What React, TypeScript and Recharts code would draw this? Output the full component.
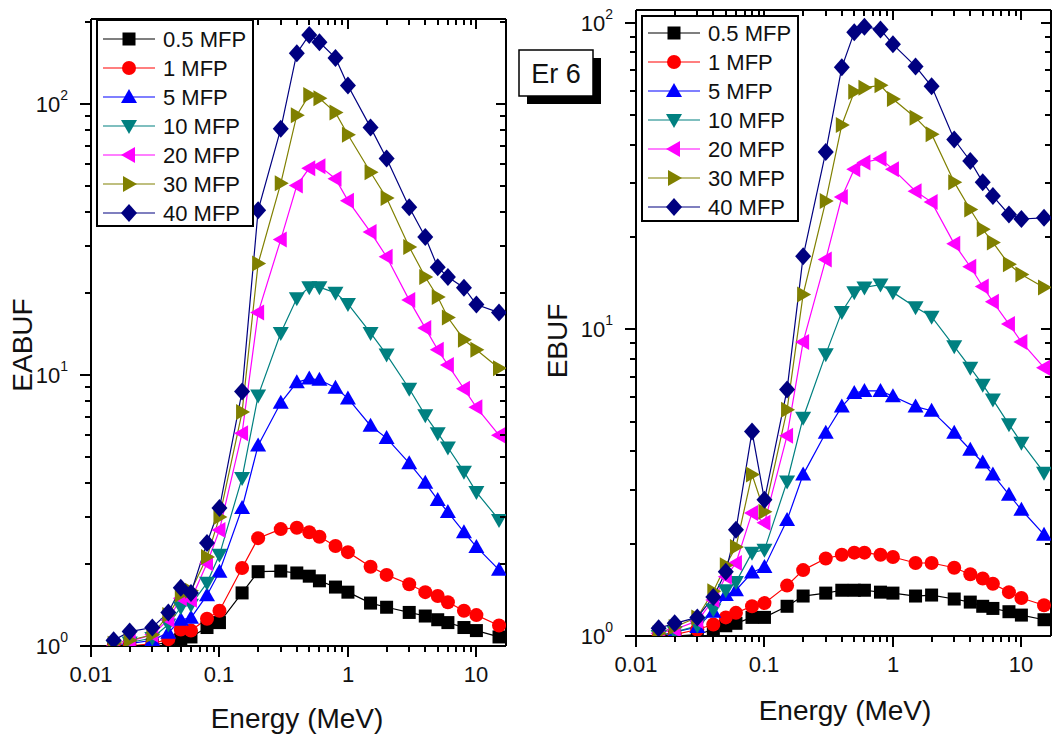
import { LineChart, Line, XAxis, YAxis, ReferenceLine } from "recharts";

// photon energies (MeV)
const energies = [
  0.015, 0.02, 0.03, 0.04, 0.05, 0.06, 0.08, 0.1, 0.15, 0.2, 0.3, 0.4, 0.5,
  0.6, 0.8, 1, 1.5, 2, 3, 4, 5, 6, 8, 10, 15,
];

const mfpLabels = ["0.5 MFP", "1 MFP", "5 MFP", "10 MFP", "20 MFP", "30 MFP", "40 MFP"];
const colors = ["#000000", "#ff0000", "#0000ff", "#008080", "#ff00ff", "#808000", "#000080"];
const shapes = ["square", "circle", "up", "down", "left", "right", "diamond"];

// EABUF (left panel)
const eabuf05 = [1.0, 1.0, 1.01, 1.03, 1.06, 1.08, 1.17, 1.22, 1.57, 1.88, 1.89, 1.86, 1.81, 1.74, 1.65, 1.58, 1.44, 1.39, 1.33, 1.29, 1.25, 1.22, 1.17, 1.14, 1.08];
const eabuf1 = [1.0, 1.0, 1.02, 1.06, 1.15, 1.14, 1.26, 1.35, 1.94, 2.5, 2.7, 2.73, 2.63, 2.53, 2.34, 2.22, 1.96, 1.83, 1.69, 1.58, 1.53, 1.45, 1.35, 1.3, 1.19];
const eabuf5 = [1.0, 1.02, 1.05, 1.12, 1.25, 1.27, 1.54, 1.88, 3.23, 5.5, 7.9, 9.4, 9.7, 9.6, 8.97, 8.2, 6.5, 5.85, 4.73, 4.0, 3.46, 3.12, 2.63, 2.32, 1.91];
const eabuf10 = [1.0, 1.03, 1.07, 1.2, 1.39, 1.42, 1.71, 2.17, 4.17, 8.4, 14.3, 19.2, 21.1, 21.1, 20.1, 18.3, 14.3, 11.9, 8.9, 7.1, 6.1, 5.4, 4.4, 3.7, 2.92];
const eabuf20 = [1.0, 1.04, 1.1, 1.25, 1.5, 1.48, 2.02, 2.68, 6.1, 17.0, 31.6, 50, 58, 59, 53, 44, 33.7, 27.3, 18.9, 14.9, 12.4, 10.9, 8.9, 7.6, 6.0];
const eabuf30 = [1.02, 1.05, 1.1, 1.3, 1.55, 1.6, 2.13, 2.99, 7.3, 25.8, 51, 91, 108, 105, 93, 77, 56, 45, 29.7, 23, 19.4, 16.3, 13.5, 12.4, 10.6];
const eabuf40 = [1.05, 1.13, 1.17, 1.33, 1.64, 1.57, 2.4, 3.23, 8.7, 40.6, 81, 154, 180, 169, 148, 117, 82, 63, 41.6, 32.3, 25, 23, 21, 18.2, 17];

// EBUF (right panel)
const ebuf05 = [1.0, 1.0, 1.01, 1.05, 1.08, 1.1, 1.15, 1.15, 1.25, 1.35, 1.38, 1.41, 1.41, 1.41, 1.39, 1.38, 1.35, 1.36, 1.32, 1.29, 1.25, 1.23, 1.2, 1.17, 1.13];
const ebuf1 = [1.0, 1.01, 1.05, 1.09, 1.15, 1.19, 1.25, 1.28, 1.46, 1.64, 1.79, 1.84, 1.87, 1.87, 1.84, 1.81, 1.73, 1.73, 1.67, 1.59, 1.54, 1.48, 1.39, 1.33, 1.26];
const ebuf5 = [1.0, 1.03, 1.07, 1.2, 1.36, 1.41, 1.61, 1.68, 2.39, 3.36, 4.6, 5.6, 6.2, 6.3, 6.3, 6.05, 5.6, 5.43, 4.6, 4.05, 3.68, 3.36, 2.89, 2.58, 2.14];
const ebuf10 = [1.0, 1.03, 1.08, 1.22, 1.41, 1.5, 1.87, 1.91, 3.19, 5.15, 8.3, 11.4, 13.2, 13.7, 14.0, 13.2, 11.8, 11.0, 8.8, 7.5, 6.6, 5.9, 4.9, 4.27, 3.41];
const ebuf20 = [1.02, 1.05, 1.12, 1.31, 1.56, 1.73, 2.52, 2.34, 4.5, 9.1, 16.9, 27, 33.3, 35, 36, 33.3, 28.2, 26, 19, 16, 13.8, 12.3, 10.4, 9.1, 7.5];
const ebuf30 = [1.02, 1.07, 1.15, 1.4, 1.7, 1.95, 3.36, 2.54, 5.47, 13.0, 26.2, 46.4, 59.5, 61.4, 62.5, 56.4, 49, 43.3, 30.2, 24.6, 21.2, 19.2, 16.3, 15.1, 13.7];
const ebuf40 = [1.06, 1.1, 1.15, 1.34, 1.62, 2.22, 4.64, 2.78, 6.36, 17.3, 37.9, 71.5, 93, 97, 95, 85, 72, 62, 41.6, 35.4, 30.2, 27.2, 23.7, 22.9, 23.1];

const xTicks = [
  0.01, 0.02, 0.03, 0.04, 0.05, 0.06, 0.07, 0.08, 0.09,
  0.1, 0.2, 0.3, 0.4, 0.5, 0.6, 0.7, 0.8, 0.9,
  1, 2, 3, 4, 5, 6, 7, 8, 9, 10,
];
const ebufTicks = [1, 2, 3, 4, 5, 6, 7, 8, 9, 10, 20, 30, 40, 50, 60, 70, 80, 90, 100];
const eabufTicks = [...ebufTicks, 200];

const FONT = "'Liberation Sans', Arial, Helvetica, sans-serif";
const AXIS = { stroke: "#000", strokeWidth: 2 };
const X_MAX = 17;
const Y_AXIS_W = 80;
const X_AXIS_H = 40;
const TICK_W = 2;

function isMajor(v: number) {
  const l = Math.log10(v);
  return Math.abs(l - Math.round(l)) < 1e-6;
}

function Marker({ cx, cy, shape, color }: { cx: number; cy: number; shape: string; color: string }) {
  if (cx == null || cy == null) return null;
  switch (shape) {
    case "square":
      return <rect x={cx - 6.5} y={cy - 6.5} width={13} height={13} fill={color} />;
    case "circle":
      return <circle cx={cx} cy={cy} r={7} fill={color} />;
    case "up":
      return <polygon points={`${cx},${cy - 8} ${cx + 8},${cy + 6} ${cx - 8},${cy + 6}`} fill={color} />;
    case "down":
      return <polygon points={`${cx - 8},${cy - 6} ${cx + 8},${cy - 6} ${cx},${cy + 8}`} fill={color} />;
    case "left":
      return <polygon points={`${cx - 8},${cy} ${cx + 6},${cy - 8} ${cx + 6},${cy + 8}`} fill={color} />;
    case "right":
      return <polygon points={`${cx + 8},${cy} ${cx - 6},${cy - 8} ${cx - 6},${cy + 8}`} fill={color} />;
    default:
      return <polygon points={`${cx},${cy - 9} ${cx + 8},${cy} ${cx},${cy + 9} ${cx - 8},${cy}`} fill={color} />;
  }
}

// bottom axis tick + label, and the inward mirror tick on the top edge
function BottomTick(props: any) {
  const x = Math.round(Number(props.x));
  const y = Number(props.y);
  const plotH: number = props.plotH;
  const v = props.payload.value;
  const major = isMajor(v);
  return (
    <g>
      <line x1={x} y1={y} x2={x} y2={y + (major ? 11 : 6)} stroke="#000" strokeWidth={TICK_W} shapeRendering="crispEdges" />
      <line x1={x} y1={y - plotH} x2={x} y2={y - plotH + (major ? 10 : 6)} stroke="#000" strokeWidth={TICK_W} shapeRendering="crispEdges" />
      {major && (
        <text x={x} y={y + 36} textAnchor="middle" fontSize={22} fontFamily={FONT} fill="#111">
          {v}
        </text>
      )}
    </g>
  );
}

// left axis tick + label, and the inward mirror tick on the right edge
function LeftTick(props: any) {
  const x = Number(props.x);
  const y = Math.round(Number(props.y));
  const plotW: number = props.plotW;
  const v = props.payload.value;
  const major = isMajor(v);
  return (
    <g>
      <line x1={x} y1={y} x2={x - (major ? 11 : 6)} y2={y} stroke="#000" strokeWidth={TICK_W} shapeRendering="crispEdges" />
      <line x1={x + plotW} y1={y} x2={x + plotW - (major ? 10 : 6)} y2={y} stroke="#000" strokeWidth={TICK_W} shapeRendering="crispEdges" />
      {major && (
        <text x={x - 23} y={y + 7.5} textAnchor="end" fontSize={22} fontFamily={FONT} fill="#111">
          10
          <tspan dy={-12} fontSize={14}>
            {Math.round(Math.log10(v))}
          </tspan>
        </text>
      )}
    </g>
  );
}

interface PanelProps {
  series: number[][];
  yDomain: [number, number];
  yTicks: number[];
  width: number;
  height: number;
  margin: { top: number; right: number; bottom: number; left: number };
}

function BufPanel({ series, yDomain, yTicks, width, height, margin }: PanelProps) {
  const data = energies.map((E, i) => {
    const row: Record<string, number> = { E };
    series.forEach((s, k) => (row[`s${k}`] = s[i]));
    return row;
  });
  const xDomain: [number, number] = [0.01, X_MAX];
  const plotW = width - margin.left - margin.right - Y_AXIS_W;
  const plotH = height - margin.top - margin.bottom - X_AXIS_H;

  return (
    <LineChart width={width} height={height} data={data} margin={margin}>
      <XAxis
        dataKey="E"
        type="number"
        scale="log"
        domain={xDomain}
        allowDataOverflow
        ticks={xTicks}
        interval={0}
        height={X_AXIS_H}
        tickSize={0}
        tickMargin={0}
        tickLine={false}
        axisLine={AXIS}
        tick={(p: any) => <BottomTick {...p} plotH={plotH} />}
      />
      <YAxis
        type="number"
        scale="log"
        domain={yDomain}
        allowDataOverflow
        ticks={yTicks}
        interval={0}
        width={Y_AXIS_W}
        tickSize={0}
        tickMargin={0}
        tickLine={false}
        axisLine={AXIS}
        tick={(p: any) => <LeftTick {...p} plotW={plotW} />}
      />
      <ReferenceLine y={yDomain[1]} stroke="#000" strokeWidth={2} ifOverflow="visible" />
      <ReferenceLine x={X_MAX} stroke="#000" strokeWidth={2} ifOverflow="visible" />
      {series.map((_, k) => (
        <Line
          key={k}
          dataKey={`s${k}`}
          type="linear"
          stroke={colors[k]}
          strokeWidth={1.2}
          activeDot={false}
          isAnimationActive={false}
          dot={(p: any) => (
            <Marker key={`d${k}-${p.index}`} cx={p.cx} cy={p.cy} shape={shapes[k]} color={colors[k]} />
          )}
        />
      ))}
    </LineChart>
  );
}

function LegendBox({ x, y, w, h, rowStart }: { x: number; y: number; w: number; h: number; rowStart: number }) {
  return (
    <g>
      <rect x={x} y={y} width={w} height={h} fill="#fff" stroke="#000" strokeWidth={2} />
      {mfpLabels.map((label, i) => {
        const ry = rowStart + i * 29;
        return (
          <g key={label}>
            <line x1={x + 6} y1={ry} x2={x + 58} y2={ry} stroke={colors[i]} strokeWidth={1.2} />
            <Marker cx={x + 32} cy={ry} shape={shapes[i]} color={colors[i]} />
            <text x={x + 66} y={ry + 8} fontSize={22} fontFamily={FONT} fill="#111">
              {label}
            </text>
          </g>
        );
      })}
    </g>
  );
}

export default function App() {
  return (
    <div style={{ position: "absolute", left: 0, top: 0, width: 1055, height: 737, background: "#fff" }}>
      <div style={{ position: "absolute", left: 0, top: 0 }}>
        <BufPanel
          series={[eabuf05, eabuf1, eabuf5, eabuf10, eabuf20, eabuf30, eabuf40]}
          yDomain={[1, 206]}
          yTicks={eabufTicks}
          width={530}
          height={737}
          margin={{ top: 19, right: 24, bottom: 51, left: 11 }}
        />
      </div>
      <div style={{ position: "absolute", left: 530, top: 0 }}>
        <BufPanel
          series={[ebuf05, ebuf1, ebuf5, ebuf10, ebuf20, ebuf30, ebuf40]}
          yDomain={[1, 110]}
          yTicks={ebufTicks}
          width={525}
          height={737}
          margin={{ top: 10, right: 4, bottom: 61, left: 26 }}
        />
      </div>
      <svg
        width={1055}
        height={737}
        style={{ position: "absolute", left: 0, top: 0, pointerEvents: "none" }}
      >
        <LegendBox x={97} y={20} w={156} h={206} rowStart={39} />
        <LegendBox x={642} y={16} w={156} h={205} rowStart={33} />

        <rect x={527} y={58} width={74} height={46} fill="#000" />
        <rect x={519} y={50} width={74} height={46} fill="#fff" stroke="#000" strokeWidth={1.5} />
        <text x={556} y={83} textAnchor="middle" fontSize={27} fontFamily={FONT} fill="#111">
          Er 6
        </text>

        <text x={297} y={728} textAnchor="middle" fontSize={28} fontFamily={FONT} fill="#111">
          Energy (MeV)
        </text>
        <text x={845} y={720} textAnchor="middle" fontSize={28} fontFamily={FONT} fill="#111">
          Energy (MeV)
        </text>
        <text
          x={0}
          y={0}
          transform="translate(32,345) rotate(-90)"
          textAnchor="middle"
          fontSize={28}
          fontFamily={FONT}
          fill="#111"
        >
          EABUF
        </text>
        <text
          x={0}
          y={0}
          transform="translate(567,341) rotate(-90)"
          textAnchor="middle"
          fontSize={28}
          fontFamily={FONT}
          fill="#111"
        >
          EBUF
        </text>
      </svg>
    </div>
  );
}
